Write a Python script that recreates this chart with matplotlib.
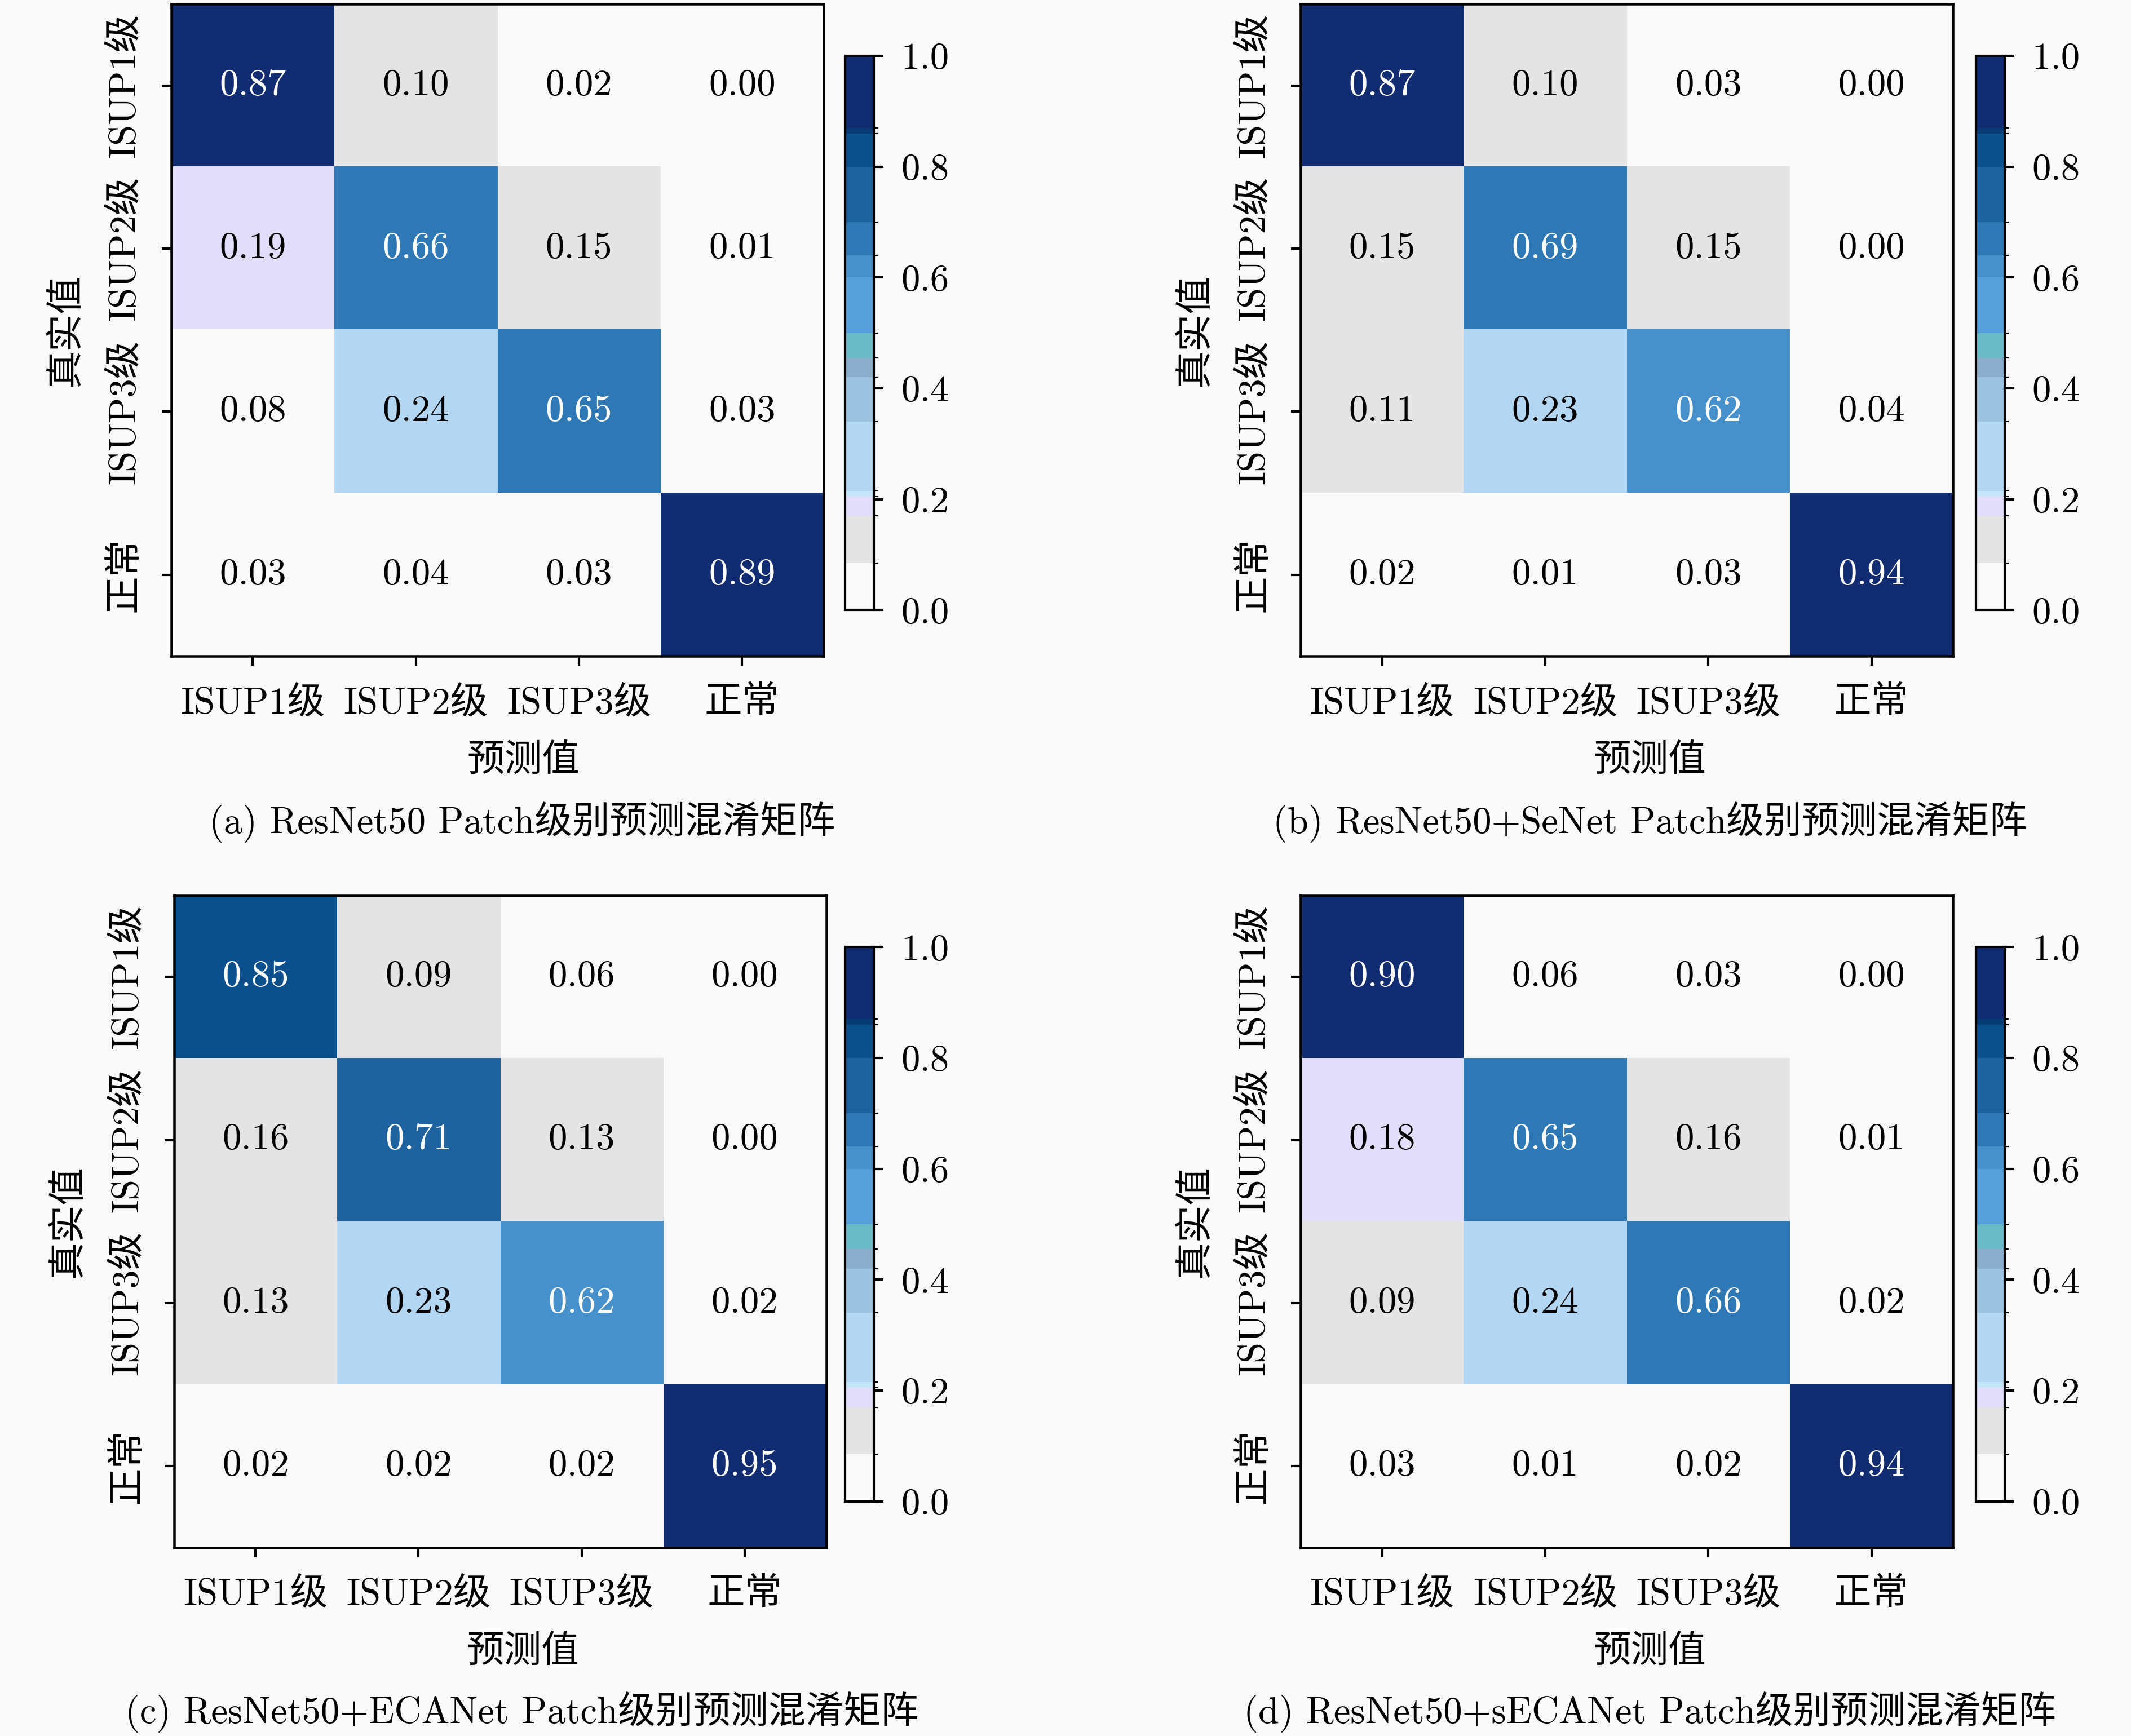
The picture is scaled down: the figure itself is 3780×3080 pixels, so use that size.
import numpy as np
import matplotlib
matplotlib.use('Agg')
import matplotlib.pyplot as plt
from matplotlib.colors import ListedColormap, BoundaryNorm

# 数据
classes = ['ISUP1级', 'ISUP2级', 'ISUP3级', '正常']
captions = ['(a) ResNet50 Patch级别预测混淆矩阵',
            '(b) ResNet50+SeNet Patch级别预测混淆矩阵',
            '(c) ResNet50+ECANet Patch级别预测混淆矩阵',
            '(d) ResNet50+sECANet Patch级别预测混淆矩阵']
cm_a = [[0.87, 0.10, 0.02, 0.00],
        [0.19, 0.66, 0.15, 0.01],
        [0.08, 0.24, 0.65, 0.03],
        [0.03, 0.04, 0.03, 0.89]]
cm_b = [[0.87, 0.10, 0.03, 0.00],
        [0.15, 0.69, 0.15, 0.00],
        [0.11, 0.23, 0.62, 0.04],
        [0.02, 0.01, 0.03, 0.94]]
cm_c = [[0.85, 0.09, 0.06, 0.00],
        [0.16, 0.71, 0.13, 0.00],
        [0.13, 0.23, 0.62, 0.02],
        [0.02, 0.02, 0.02, 0.95]]
cm_d = [[0.90, 0.06, 0.03, 0.00],
        [0.18, 0.65, 0.16, 0.01],
        [0.09, 0.24, 0.66, 0.02],
        [0.03, 0.01, 0.02, 0.94]]
matrices = [cm_a, cm_b, cm_c, cm_d]

# 分段色带
bounds = [0, 0.085, 0.17, 0.205, 0.215, 0.34, 0.42, 0.455, 0.5, 0.6, 0.64, 0.7, 0.8, 0.86, 0.87, 1.0]
colors = ['#f9f9f9', '#e4e4e4', '#e2ddfa', '#c5e6f9', '#b3d6f2', '#9cc3e0', '#8aaecb',
          '#6bbac8', '#56a0dc', '#4690cb', '#2f78b6', '#1f62a0', '#0b4f8c', '#063b74', '#122c72']
cmap = ListedColormap(colors)
norm = BoundaryNorm(bounds, cmap.N)

plt.rcParams['font.family'] = ['cmr10', 'Noto Sans CJK SC']
plt.rcParams['axes.formatter.use_mathtext'] = True
plt.rcParams['mathtext.fontset'] = 'cm'
fs = 19.2

fig = plt.figure(figsize=(15.12, 12.32), dpi=250, facecolor='#fafafa')

W, H = 1568, 1277.6
ax_pos = [(126, 3), (957, 3), (128, 659), (957, 659)]
cb_pos = [(622, 41), (1454, 41), (622, 697), (1454, 697)]
cap_pos = [(384, 605), (1214, 605), (384, 1260), (1214, 1260)]
xlab_x = [0.54, 0.535, 0.535, 0.535]

for i, m in enumerate(matrices):
    m = np.array(m)
    x0, y0 = ax_pos[i]
    ax = fig.add_axes([x0 / W, 1 - (y0 + 480) / H, 480 / W, 480 / H])
    im = ax.imshow(m, cmap=cmap, norm=norm, aspect='auto')
    for r in range(4):
        for c in range(4):
            ax.text(c, r, f'{m[r, c]:.2f}', ha='center', va='center', fontsize=fs,
                    color='white' if m[r, c] > 0.5 else 'black')
    ax.set_xticks(range(4))
    ax.set_yticks(range(4))
    ax.set_xticklabels(classes, fontsize=fs)
    ax.set_yticklabels(classes, fontsize=fs, rotation=90, va='center')
    ax.tick_params(length=5, width=1.2, pad=10)
    for s in ax.spines.values():
        s.set_linewidth(1.3)
    ax.set_xlabel('预测值', fontsize=fs)
    ax.set_ylabel('真实值', fontsize=fs)
    ax.xaxis.set_label_coords(xlab_x[i], -0.135)
    ax.yaxis.set_label_coords(-0.135, 0.5)

    cx, cy = cb_pos[i]
    cax = fig.add_axes([cx / W, 1 - (cy + 408) / H, 21 / W, 408 / H])
    cb = fig.colorbar(im, cax=cax, spacing='proportional')
    ticks = [0.0, 0.2, 0.4, 0.6, 0.8, 1.0]
    cb.set_ticks(ticks, labels=[f'{t:.1f}' for t in ticks])
    cb.ax.tick_params(labelsize=fs, length=5, width=1.2, pad=9)
    cb.outline.set_linewidth(1.2)

    px, py = cap_pos[i]
    fig.text(px / W, 1 - py / H, captions[i], ha='center', va='center', fontsize=fs)

fig.savefig('out.png', dpi=250, facecolor=fig.get_facecolor())
